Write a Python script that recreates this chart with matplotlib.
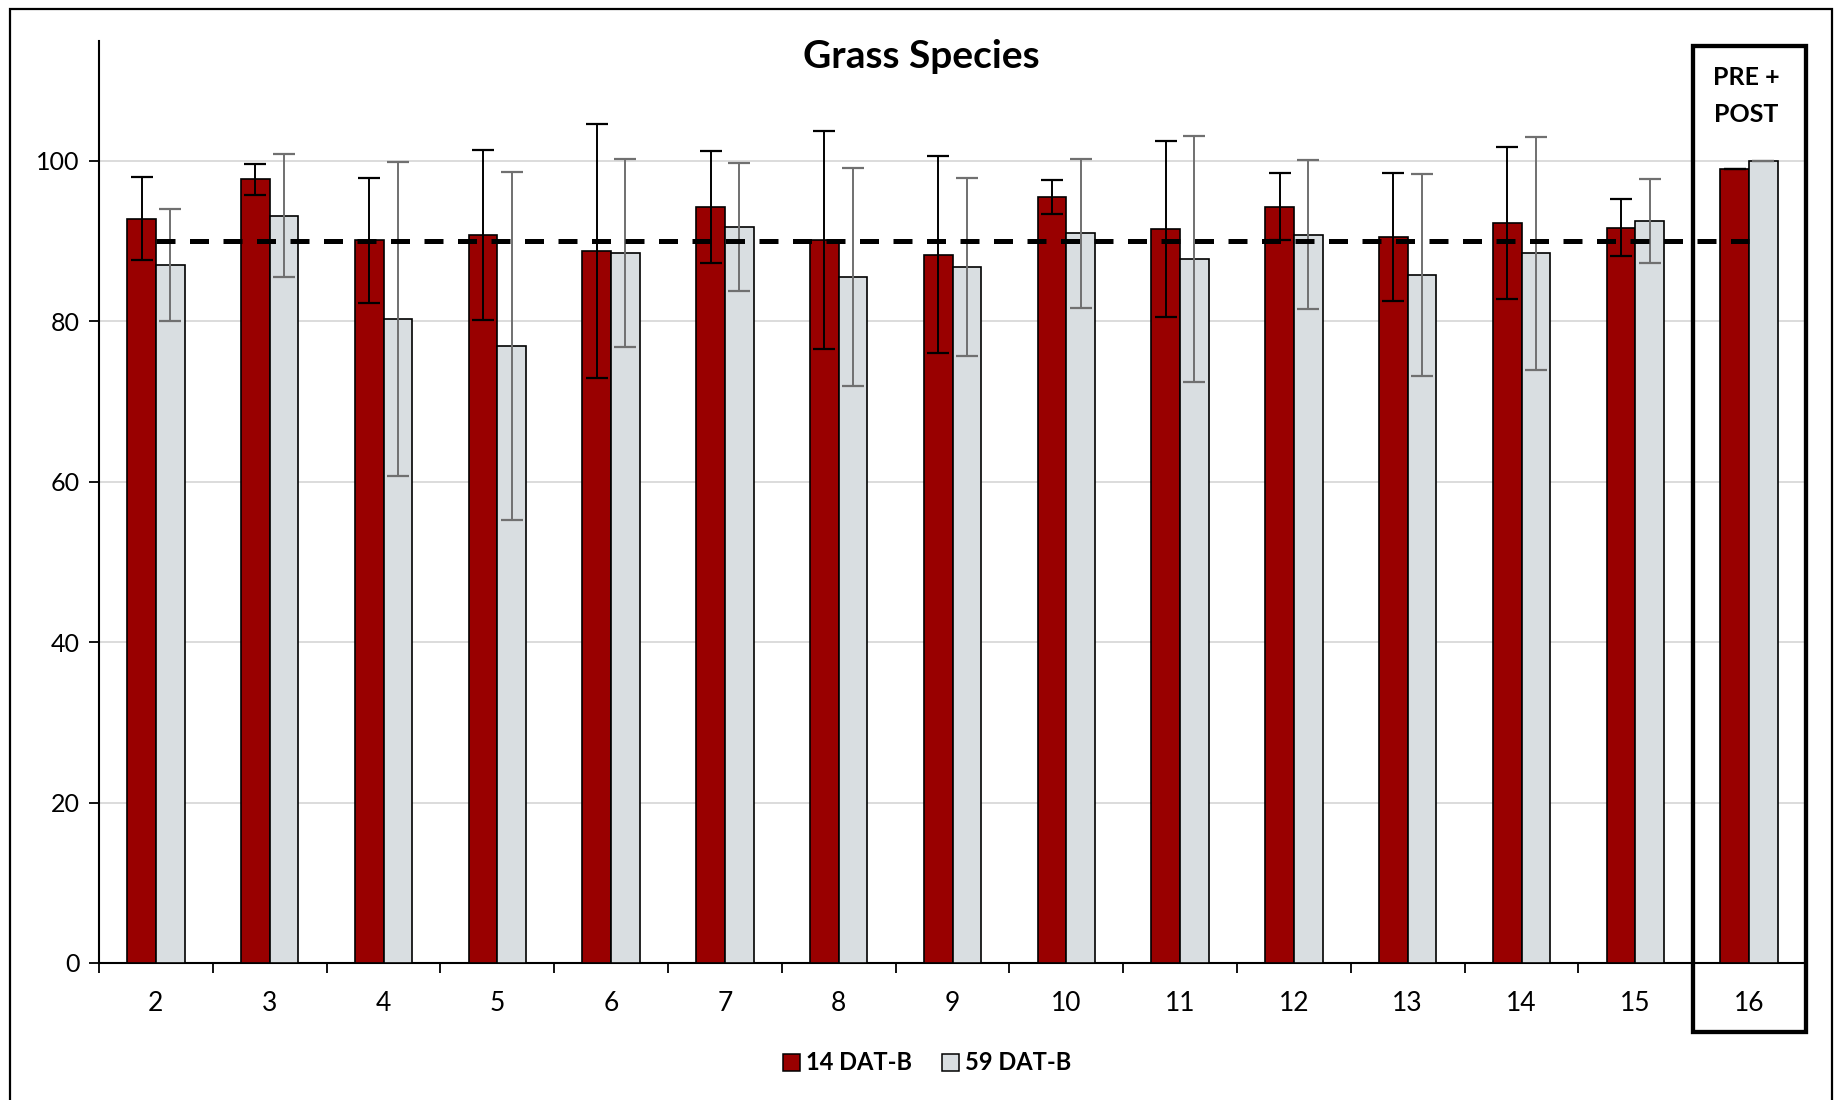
import numpy as np
import matplotlib
matplotlib.use("Agg")
import matplotlib.pyplot as plt
from matplotlib.patches import Rectangle, Patch

plt.rcParams['font.family'] = ['Lato', 'DejaVu Sans']

# データ
categories = ["2", "3", "4", "5", "6", "7", "8", "9", "10", "11", "12", "13", "14", "15", "16"]
dat14 = [92.8, 97.7, 90.1, 90.8, 88.8, 94.3, 90.2, 88.3, 95.5, 91.5, 94.3, 90.5, 92.3, 91.7, 99.0]
dat14_err = [5.2, 1.9, 7.8, 10.6, 15.8, 7.0, 13.6, 12.3, 2.1, 11.0, 4.2, 8.0, 9.5, 3.5, 0.0]
dat59 = [87.0, 93.2, 80.3, 76.9, 88.5, 91.8, 85.5, 86.8, 91.0, 87.8, 90.8, 85.8, 88.5, 92.5, 100.0]
dat59_err = [7.0, 7.7, 19.6, 21.7, 11.7, 8.0, 13.6, 11.1, 9.3, 15.3, 9.3, 12.6, 14.5, 5.2, 0.0]
target = [90] * len(categories)
yticks = [0, 20, 40, 60, 80, 100]

RED = "#990000"
GRAY = "#D9DEE1"

W, H = 1834, 1100
fig = plt.figure(figsize=(W / 100, H / 100), dpi=100)
ax = fig.add_axes([99 / W, 1 - 963 / H, (1806 - 99) / W, (963 - 40.7) / H])

x = np.arange(len(categories))
bw = 0.253
ax.bar(x - bw / 2, dat14, bw, color=RED, edgecolor="black", linewidth=1.2, zorder=3)
ax.bar(x + bw / 2, dat59, bw, color=GRAY, edgecolor="black", linewidth=1.2, zorder=3)
ax.errorbar(x - bw / 2, dat14, yerr=dat14_err, fmt="none", ecolor="black",
            elinewidth=1.4, capsize=8, capthick=1.6, zorder=4)
ax.errorbar(x + bw / 2, dat59, yerr=dat59_err, fmt="none", ecolor="#707070",
            elinewidth=1.4, capsize=8, capthick=1.6, zorder=4)

# 目標ライン
ax.plot(x, target, color="black", lw=3.6, dashes=(3.8, 2.9), zorder=5)

ax.set_xlim(-0.5, len(categories) - 0.5)
ax.set_ylim(0, 115)
ax.set_yticks(yticks)
ax.yaxis.grid(True, color="#d9d9d9", lw=1.3, zorder=0)
ax.set_axisbelow(True)
ax.tick_params(axis="y", labelsize=18, length=7, width=1.3, direction="out", pad=7)

# x軸：目盛りは区切り位置、ラベルは中央
ax.set_xticks(np.arange(-0.5, len(categories), 1.0))
ax.set_xticklabels([])
ax.set_xticks(x, minor=True)
ax.set_xticklabels(categories, minor=True)
ax.tick_params(axis="x", which="major", length=7, width=1.3, direction="out")
ax.tick_params(axis="x", which="minor", length=0, labelsize=19, pad=20)

for s in ["top", "right"]:
    ax.spines[s].set_visible(False)
ax.spines["left"].set_linewidth(1.5)
ax.spines["bottom"].set_linewidth(1.5)

fig.text(921 / W, 1 - 57 / H, "Grass Species", ha="center", va="center",
         fontsize=28, fontweight="bold")

# PRE + POST の枠
fig.patches.append(Rectangle((1692.5 / W, 1 - 1032 / H), (1805.5 - 1692.5) / W, (1032 - 46) / H,
                             transform=fig.transFigure, fill=False, ec="black", lw=3.1))
fig.text(1746 / W, 1 - 77 / H, "PRE +", ha="center", va="center", fontsize=18, fontweight="bold")
fig.text(1746 / W, 1 - 114 / H, "POST", ha="center", va="center", fontsize=18, fontweight="bold")

# 外枠
fig.patches.append(Rectangle((10 / W, -0.01), (1832 - 10) / W, 1.01 - 9 / H,
                             transform=fig.transFigure, fill=False, ec="black", lw=1.6))

handles = [Patch(facecolor=RED, edgecolor="black", lw=1.1, label="14 DAT-B"),
           Patch(facecolor=GRAY, edgecolor="black", lw=1.1, label="59 DAT-B")]
fig.legend(handles=handles, loc="center", bbox_to_anchor=(927 / W, 1 - 1063 / H), ncol=2,
           frameon=False, prop={"size": 17, "weight": "bold"},
           handlelength=0.72, handleheight=0.72, handletextpad=0.25, columnspacing=1.25)

fig.savefig("out.png", dpi=100)
